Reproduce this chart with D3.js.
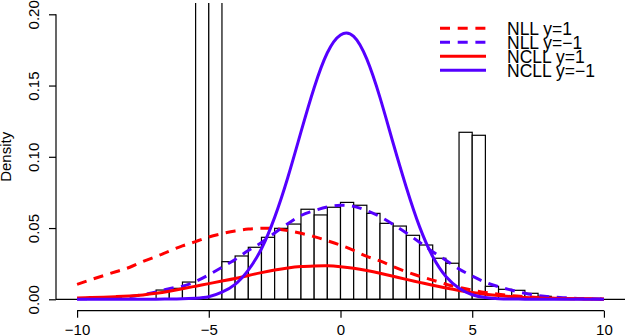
<!DOCTYPE html>
<html>
<head>
<meta charset="utf-8">
<script src="https://cdn.jsdelivr.net/npm/d3@7"></script>
<style>
body{margin:0;background:#fff;}
svg{display:block;font-family:"Liberation Sans",Arial,Helvetica,sans-serif;}
</style>
</head>
<body>
<svg id="chart" width="626" height="336"></svg>
<script>
// histogram: left edge of each bin, bins are 0.5 wide
var binStart = [-7,-6.5,-6,-5.5,-5,-4.5,-4,-3.5,-3,-2.5,-2,-1.5,-1,-0.5,0,0.5,1,1.5,2,2.5,3,3.5,4,4.5,5,5.5,6,6.5,7,7.5];
var binDensity = [0.0065,0.0077,0.0121,0.42,0.43,0.0264,0.0304,0.0365,0.0435,0.0498,0.0528,0.0632,0.0592,0.0646,
  0.0680,0.0660,0.0603,0.0533,0.0514,0.0449,0.0381,0.0288,0.0253,0.1172,0.1151,0.0091,0.0070,0.0063,0.0042,0.0021];
var binWidth = 0.5;

// density curves
var gridX = [-10,-9.5,-9,-8.5,-8,-7.5,-7,-6.5,-6,-5.5,-5,-4.5,-4,-3.5,-3,-2.5,-2,-1.5,-1,-0.5,
  0,0.5,1,1.5,2,2.5,3,3.5,4,4.5,5,5.5,6,6.5,7,7.5,8,8.5,9,9.5,10];
var nllPos = [0.0105,0.0136,0.0166,0.0195,0.0225,0.0265,0.0300,0.0338,0.0375,0.0405,0.0437,0.0461,0.0480,0.0493,0.0498,0.0496,0.0482,0.0463,0.0440,0.0411,
  0.0380,0.0343,0.0301,0.0269,0.0229,0.0193,0.0162,0.0135,0.0106,0.0084,0.0064,0.0048,0.0036,0.0026,0.0019,0.0013,0.0009,0.0006,0.0004,0.0003,0.0002];
var nllNeg = [0.0003,0.0005,0.0008,0.0013,0.0020,0.0033,0.0052,0.0075,0.0092,0.0125,0.0172,0.0225,0.0280,0.0342,0.0398,0.0465,0.0531,0.0588,0.0622,0.0648,
  0.0660,0.0652,0.0622,0.0580,0.0525,0.0465,0.0400,0.0334,0.0274,0.0213,0.0163,0.0120,0.0088,0.0064,0.0042,0.0027,0.0017,0.0011,0.0006,0.0004,0.0002];
var ncllPos = [0.0010,0.0012,0.0015,0.0019,0.0024,0.0031,0.0042,0.0057,0.0074,0.0092,0.0110,0.0128,0.0146,0.0167,0.0187,0.0205,0.0220,0.0230,0.0234,0.0235,
  0.0229,0.0218,0.0202,0.0183,0.0162,0.0140,0.0119,0.0098,0.0079,0.0062,0.0048,0.0036,0.0026,0.0019,0.0013,0.0009,0.0006,0.0004,0.0003,0.0002,0.0001];
var ncllNeg = [0,0,0,0,0,0.0001,0.0001,0.0002,0.0004,0.0008,0.0018,0.0050,0.0105,0.0205,0.0355,0.0575,0.0855,0.1175,0.1485,0.1730,
  0.1855,0.1845,0.1685,0.1415,0.1095,0.0785,0.0510,0.0300,0.0160,0.0078,0.0032,0.0012,0.0004,0.0002,0.0001,0,0,0,0,0,0];

var xTicks = [-10,-5,0,5,10];
var yTicks = [0,0.05,0.1,0.15,0.2];
var legendLabels = ["NLL y=1","NLL y=\u22121","NCLL y=1","NCLL y=\u22121"];

var series = [
  {name:legendLabels[0], values:nllPos, color:"#ff0000", dash:"10,7.5"},
  {name:legendLabels[1], values:nllNeg, color:"#5500ff", dash:"10,7.5"},
  {name:legendLabels[2], values:ncllPos, color:"#ff0000", dash:null},
  {name:legendLabels[3], values:ncllNeg, color:"#5500ff", dash:null}
];

var svg = d3.select("#chart");
var plotLeft = 56, plotRight = 625, plotTop = 2.9, plotBottom = 310.7;

var x = d3.scaleLinear().domain([-10.8,10.8]).range([plotLeft,plotRight]);
var y = d3.scaleLinear().domain([-0.008,0.208]).range([plotBottom,plotTop]);

svg.append("rect").attr("width",626).attr("height",336).attr("fill","white");

svg.append("clipPath").attr("id","plot-clip")
  .append("rect").attr("x",plotLeft).attr("y",plotTop).attr("width",plotRight-plotLeft).attr("height",plotBottom-plotTop);

var plot = svg.append("g").attr("clip-path","url(#plot-clip)");

// bars
plot.selectAll("rect.bar").data(binStart)
  .enter().append("rect").attr("class","bar")
  .attr("x",function(d){return x(d)})
  .attr("width",function(d){return x(d+binWidth)-x(d)})
  .attr("y",function(d,i){return y(binDensity[i])})
  .attr("height",function(d,i){return y(0)-y(binDensity[i])})
  .attr("fill","white").attr("stroke","black").attr("stroke-width",1.2);

// zero line across the plot
plot.append("line")
  .attr("x1",plotLeft).attr("x2",plotRight).attr("y1",y(0)).attr("y2",y(0))
  .attr("stroke","black").attr("stroke-width",1.2);

var line = d3.line()
  .x(function(d,i){return x(gridX[i])})
  .y(function(d){return y(d)})
  .curve(d3.curveNatural);

plot.selectAll("path.curve").data(series)
  .enter().append("path").attr("class","curve")
  .attr("d",function(d){return line(d.values)})
  .attr("fill","none")
  .attr("stroke",function(d){return d.color})
  .attr("stroke-width",3)
  .attr("stroke-dasharray",function(d){return d.dash});

// x axis
var xAxis = svg.append("g").attr("transform","translate(0," + plotBottom + ")")
  .call(d3.axisBottom(x).tickValues(xTicks).tickSize(7).tickPadding(7).tickSizeOuter(0));
xAxis.select(".domain").attr("d","M" + x(-10) + ",0H" + x(10));

// y axis
var yAxis = svg.append("g").attr("transform","translate(" + plotLeft + ",0)")
  .call(d3.axisLeft(y).tickValues(yTicks).tickSize(7).tickSizeOuter(0).tickFormat(d3.format(".2f")));
yAxis.select(".domain").attr("d","M0," + y(0) + "V" + y(0.2));
yAxis.selectAll(".tick text")
  .attr("transform","rotate(-90)")
  .attr("x",0).attr("y",-17).attr("dy",0)
  .attr("text-anchor","middle");

svg.selectAll(".tick text").attr("font-size",15).attr("font-family","Liberation Sans,Arial,sans-serif").attr("fill","black");
svg.selectAll(".domain, .tick line").attr("stroke","black").attr("stroke-width",1.2);

svg.append("text")
  .attr("transform","translate(11," + ((plotTop+plotBottom)/2) + ") rotate(-90)")
  .attr("text-anchor","middle")
  .attr("font-size",15)
  .text("Density");

// legend
var legend = svg.append("g").attr("transform","translate(440,28.3)");
var item = legend.selectAll("g").data(series)
  .enter().append("g")
  .attr("transform",function(d,i){return "translate(0," + (i*14) + ")"});
item.append("line")
  .attr("x1",0).attr("x2",46)
  .attr("stroke",function(d){return d.color})
  .attr("stroke-width",3)
  .attr("stroke-dasharray",function(d){return d.dash ? "10,7.7" : null});
item.append("text")
  .attr("x",67).attr("dy","0.36em")
  .attr("font-size",17.5)
  .text(function(d){return d.name});
</script>
</body>
</html>
